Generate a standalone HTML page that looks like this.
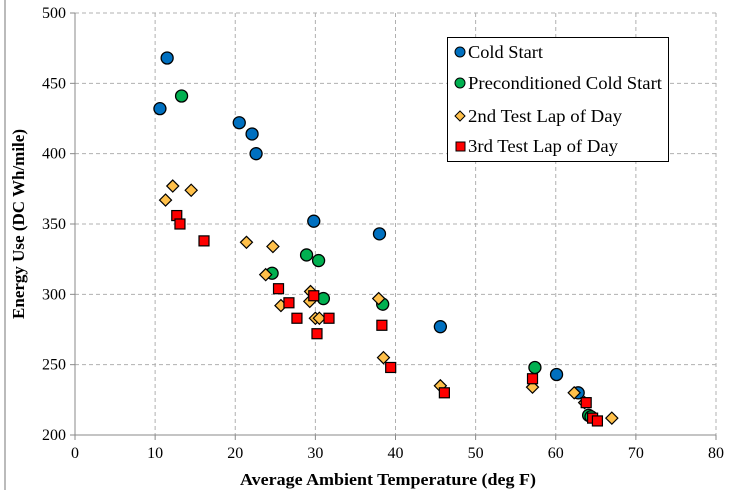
<!DOCTYPE html>
<html><head><meta charset="utf-8"><style>
html,body{margin:0;padding:0;background:#fff;}
svg, svg text{font-family:"Liberation Serif","Times New Roman","DejaVu Serif",serif;}
</style></head><body>
<svg id="chart" width="731" height="494" style="display:block">
<line x1="5" y1="0" x2="5" y2="490" stroke="#bbb" stroke-width="2"/>
<g id="grid"></g>
<g id="axes"></g>
<g id="marks"></g>
<text x="388" y="485" text-anchor="middle" font-size="17" font-weight="bold" textLength="296" lengthAdjust="spacingAndGlyphs">Average Ambient Temperature (deg F)</text>
<text transform="translate(24,224) rotate(-90)" text-anchor="middle" font-size="17" font-weight="bold">Energy Use (DC Wh/mile)</text>
<g>
<rect x="447.5" y="37.5" width="221" height="124" fill="#fff" stroke="#000" stroke-width="1"/>
<g><circle cx="460" cy="52" r="5" fill="#0070c0" stroke="#000" stroke-width="1"/><text x="468" y="58" font-size="18" textLength="75" lengthAdjust="spacingAndGlyphs">Cold Start</text></g>
<g><circle cx="460" cy="83" r="5" fill="#00b050" stroke="#000" stroke-width="1"/><text x="468" y="89" font-size="18" textLength="194" lengthAdjust="spacingAndGlyphs">Preconditioned Cold Start</text></g>
<g><polygon points="460,111 465,116 460,121 455,116" fill="#ffc04a" stroke="#000" stroke-width="1"/><text x="468" y="122" font-size="18" textLength="154" lengthAdjust="spacingAndGlyphs">2nd Test Lap of Day</text></g>
<g><rect x="456" y="142" width="9" height="9" fill="#ff0000" stroke="#000" stroke-width="1"/><text x="468" y="152" font-size="18" textLength="150" lengthAdjust="spacingAndGlyphs">3rd Test Lap of Day</text></g>
</g>
</svg>
<script>
const xTicks=[0,10,20,30,40,50,60,70,80];
const yTicks=[200,250,300,350,400,450,500];
const coldX=[10.6,11.5,20.5,22.1,22.6,29.8,38.0,45.6,60.1,62.8];
const coldY=[432,468,422,414,400,352,343,277,243,230];
const preX=[13.3,24.6,28.9,30.4,31.0,38.4,57.4,64.1,64.4];
const preY=[441,315,328,324,297,293,248,214,213];
const lap2X=[12.2,14.5,11.3,21.4,24.7,23.8,25.7,29.4,29.3,30.0,30.5,37.9,38.5,45.6,57.1,62.3,63.6,67.0];
const lap2Y=[377,374,367,337,334,314,292,302,295,283,283,297,255,235,234,230,223,212];
const lap3X=[12.7,13.1,16.1,25.4,26.7,27.7,29.8,30.2,31.7,38.3,39.4,46.1,57.1,63.8,64.6,65.2];
const lap3Y=[356,350,338,304,294,283,299,272,283,278,248,230,240,223,212,210];
const NS='http://www.w3.org/2000/svg';
const X0=75,X1=716,Y0=435,Y1=13;
function sx(v){return X0+(v-0)/(80-0)*(X1-X0);}
function sy(v){return Y0-(v-200)/(500-200)*(Y0-Y1);}
function mk(tag,attrs,parent){const e=document.createElementNS(NS,tag);for(const k in attrs)e.setAttribute(k,attrs[k]);parent.appendChild(e);return e;}
const grid=document.getElementById('grid'),axes=document.getElementById('axes'),marks=document.getElementById('marks');
xTicks.forEach(t=>{
 if(t>0){const l=mk('line',{x1:sx(t),x2:sx(t),y1:Y1,y2:Y0,stroke:'#b0b0b0','stroke-dasharray':'4,3'},grid);
 
 }
 const tk=mk('line',{x1:sx(t),x2:sx(t),y1:Y0,y2:Y0+5,stroke:'#888'},axes);
 
 
 const tx=mk('text',{x:sx(t),y:Y0+23,'text-anchor':'middle','font-size':'16'},axes);tx.textContent=t;
 
 
});
yTicks.forEach(t=>{
 if(t>200){const l=mk('line',{x1:X0,x2:X1,y1:sy(t),y2:sy(t),stroke:'#b0b0b0','stroke-dasharray':'4,3'},grid);
 
 }
 const tk=mk('line',{x1:X0-5,x2:X0,y1:sy(t),y2:sy(t),stroke:'#888'},axes);
 
 
 const tx=mk('text',{x:X0-9,y:sy(t)+5,'text-anchor':'end','font-size':'16'},axes);tx.textContent=t;
 
 
});
const ax=mk('line',{x1:X0,x2:X1,y1:Y0,y2:Y0,stroke:'#888'},axes);


const ay=mk('line',{x1:X0,x2:X0,y1:Y1,y2:Y0,stroke:'#888'},axes);


coldX.forEach((v,i)=>{const c=mk('circle',{cx:sx(v),cy:sy(coldY[i]),r:6,fill:'#0070c0',stroke:'#000','stroke-width':1.3},marks);
 
 });
preX.forEach((v,i)=>{const c=mk('circle',{cx:sx(v),cy:sy(preY[i]),r:6,fill:'#00b050',stroke:'#000','stroke-width':1.3},marks);
 
 });
lap2X.forEach((v,i)=>{const x=sx(v),y=sy(lap2Y[i]);const p=mk('polygon',{points:`${x},${y-6} ${x+6},${y} ${x},${y+6} ${x-6},${y}`,fill:'#ffc04a',stroke:'#000','stroke-width':1.2},marks);
 
 });
lap3X.forEach((v,i)=>{const x=sx(v),y=sy(lap3Y[i]);const r=mk('rect',{x:x-5,y:y-5,width:10,height:10,fill:'#ff0000',stroke:'#000','stroke-width':1.2},marks);
 
 });
</script>
</body></html>
